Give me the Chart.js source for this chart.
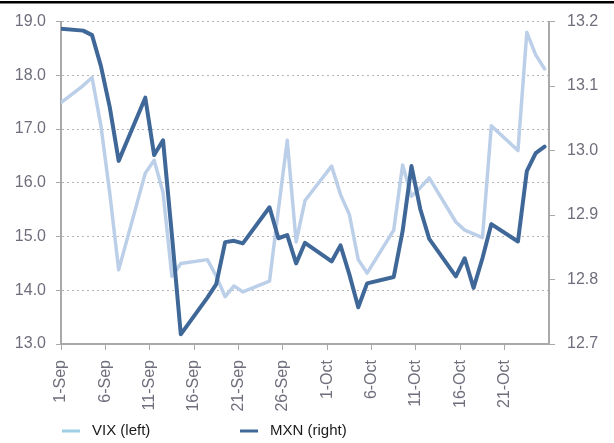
<!DOCTYPE html>
<html>
<head>
<meta charset="utf-8">
<script src="https://cdn.jsdelivr.net/npm/chart.js@4.4.0/dist/chart.umd.min.js"></script>
<style>
body { margin: 0; background: #fff; }
#wrap { width: 614px; height: 443px; position: relative; }
</style>
</head>
<body>
<div id="wrap"><canvas id="chart"></canvas></div>
<script>
// day offsets from 1-Sep (trading days, plotted mid-day)
var days = [0, 2.5, 3.5, 4.5, 5.5, 6.5, 9.5, 10.5, 11.5, 12.5, 13.5, 16.5, 17.5, 18.5, 19.5, 20.5,
  23.5, 24.5, 25.5, 26.5, 27.5, 30.5, 31.5, 32.5, 33.5, 34.5, 37.5, 38.5, 39.5, 40.5, 41.5,
  44.5, 45.5, 46.5, 47.5, 48.5, 51.5, 52.5, 53.5, 54.5];

var vix = [17.49, 17.81, 17.96, 17.06, 15.80, 14.38, 16.18, 16.42, 15.82, 14.26, 14.50, 14.57, 14.26, 13.88, 14.08, 13.97,
  14.17, 15.50, 16.79, 14.90, 15.67, 16.31, 15.78, 15.41, 14.57, 14.32, 15.12, 16.33, 15.75, 15.91, 16.09,
  15.27, 15.12, 15.05, 14.98, 17.06, 16.60, 18.80, 18.38, 18.12];

var mxn = [13.189, 13.186, 13.179, 13.131, 13.067, 12.984, 13.082, 12.993, 13.016, 12.869, 12.715, 12.772, 12.793, 12.858, 12.860, 12.856,
  12.912, 12.864, 12.869, 12.825, 12.857, 12.828, 12.853, 12.808, 12.757, 12.794, 12.804, 12.875, 12.976, 12.909, 12.863,
  12.805, 12.833, 12.787, 12.833, 12.886, 12.859, 12.968, 12.996, 13.006];

var tickLabels = ["1-Sep", "6-Sep", "11-Sep", "16-Sep", "21-Sep", "26-Sep", "1-Oct", "6-Oct", "11-Oct", "16-Oct", "21-Oct"];

var seriesNames = ["VIX (left)", "MXN (right)"];
var lightBlue = '#bccfe8';
var darkBlue = '#3f6899';
var axisGrey = '#a9a9a9';
var textGrey = '#6e6e7c';
var fontFamily = "'Liberation Sans', Arial, sans-serif";

function toPoints(xs, ys) {
  return xs.map(function (d, i) { return { x: d, y: ys[i] }; });
}

var frame = {
  id: 'frame',
  beforeDraw: function (chart) {
    var c = chart.ctx;
    c.save();
    c.fillStyle = '#000';
    c.fillRect(0, 1, chart.width, 2.5);
    c.restore();
  },
  afterDraw: function (chart) {
    var c = chart.ctx;
    var left = chart.chartArea.left;
    var y = 431;
    var items = [
      { label: seriesNames[0], color: '#9fcfe4', x: left },
      { label: seriesNames[1], color: darkBlue, x: left + 178 }
    ];
    c.save();
    c.font = '15px ' + fontFamily;
    c.textBaseline = 'middle';
    c.fillStyle = '#1a1a1a';
    items.forEach(function (it) {
      c.strokeStyle = it.color;
      c.lineWidth = 3;
      c.beginPath();
      c.moveTo(it.x + 1, y);
      c.lineTo(it.x + 19, y);
      c.stroke();
      c.fillText(it.label, it.x + 31, y);
    });
    c.restore();
  }
};

new Chart(document.getElementById('chart'), {
  type: 'line',
  data: {
    datasets: [
      {
        label: seriesNames[0],
        data: toPoints(days, vix),
        yAxisID: 'y',
        borderColor: lightBlue,
        borderWidth: 3.5,
        pointRadius: 0,
        tension: 0,
        borderJoinStyle: 'round',
        borderCapStyle: 'round',
        order: 1
      },
      {
        label: seriesNames[1],
        data: toPoints(days, mxn),
        yAxisID: 'y2',
        borderColor: darkBlue,
        borderWidth: 4,
        pointRadius: 0,
        tension: 0,
        borderJoinStyle: 'round',
        borderCapStyle: 'round',
        order: 0
      }
    ]
  },
  options: {
    responsive: true,
    maintainAspectRatio: false,
    animation: false,
    layout: { padding: { top: 17, left: 0, right: 0, bottom: 0 } },
    plugins: {
      legend: { display: false },
      tooltip: { enabled: false }
    },
    scales: {
      x: {
        type: 'linear',
        min: 0,
        max: 55,
        afterFit: function (s) { s.height = 99; },
        ticks: {
          stepSize: 5,
          autoSkip: false,
          minRotation: 90,
          maxRotation: 90,
          padding: 10,
          color: textGrey,
          font: { family: fontFamily, size: 16 },
          callback: function (value) {
            var i = Math.round(value / 5);
            return (value % 5 === 0 && i < tickLabels.length) ? tickLabels[i] : null;
          }
        },
        grid: { drawOnChartArea: false, tickLength: 6, color: axisGrey },
        border: { color: axisGrey, width: 2 }
      },
      y: {
        position: 'left',
        min: 13,
        max: 19,
        afterFit: function (s) { s.width = 61; },
        ticks: {
          stepSize: 1,
          padding: 10,
          color: textGrey,
          font: { family: fontFamily, size: 16 },
          callback: function (v) { return v.toFixed(1); }
        },
        grid: { color: '#b4b4b4', lineWidth: 1, tickLength: 5, tickColor: axisGrey },
        border: { color: axisGrey, width: 2, dash: [2, 3] }
      },
      y2: {
        position: 'right',
        min: 12.7,
        max: 13.2,
        afterFit: function (s) { s.width = 65; },
        ticks: {
          stepSize: 0.1,
          padding: 12,
          color: textGrey,
          font: { family: fontFamily, size: 16 },
          callback: function (v) { return v.toFixed(1); }
        },
        grid: { drawOnChartArea: false, tickLength: 6, color: axisGrey },
        border: { color: axisGrey, width: 2 }
      }
    }
  },
  plugins: [frame]
});
</script>
</body>
</html>
